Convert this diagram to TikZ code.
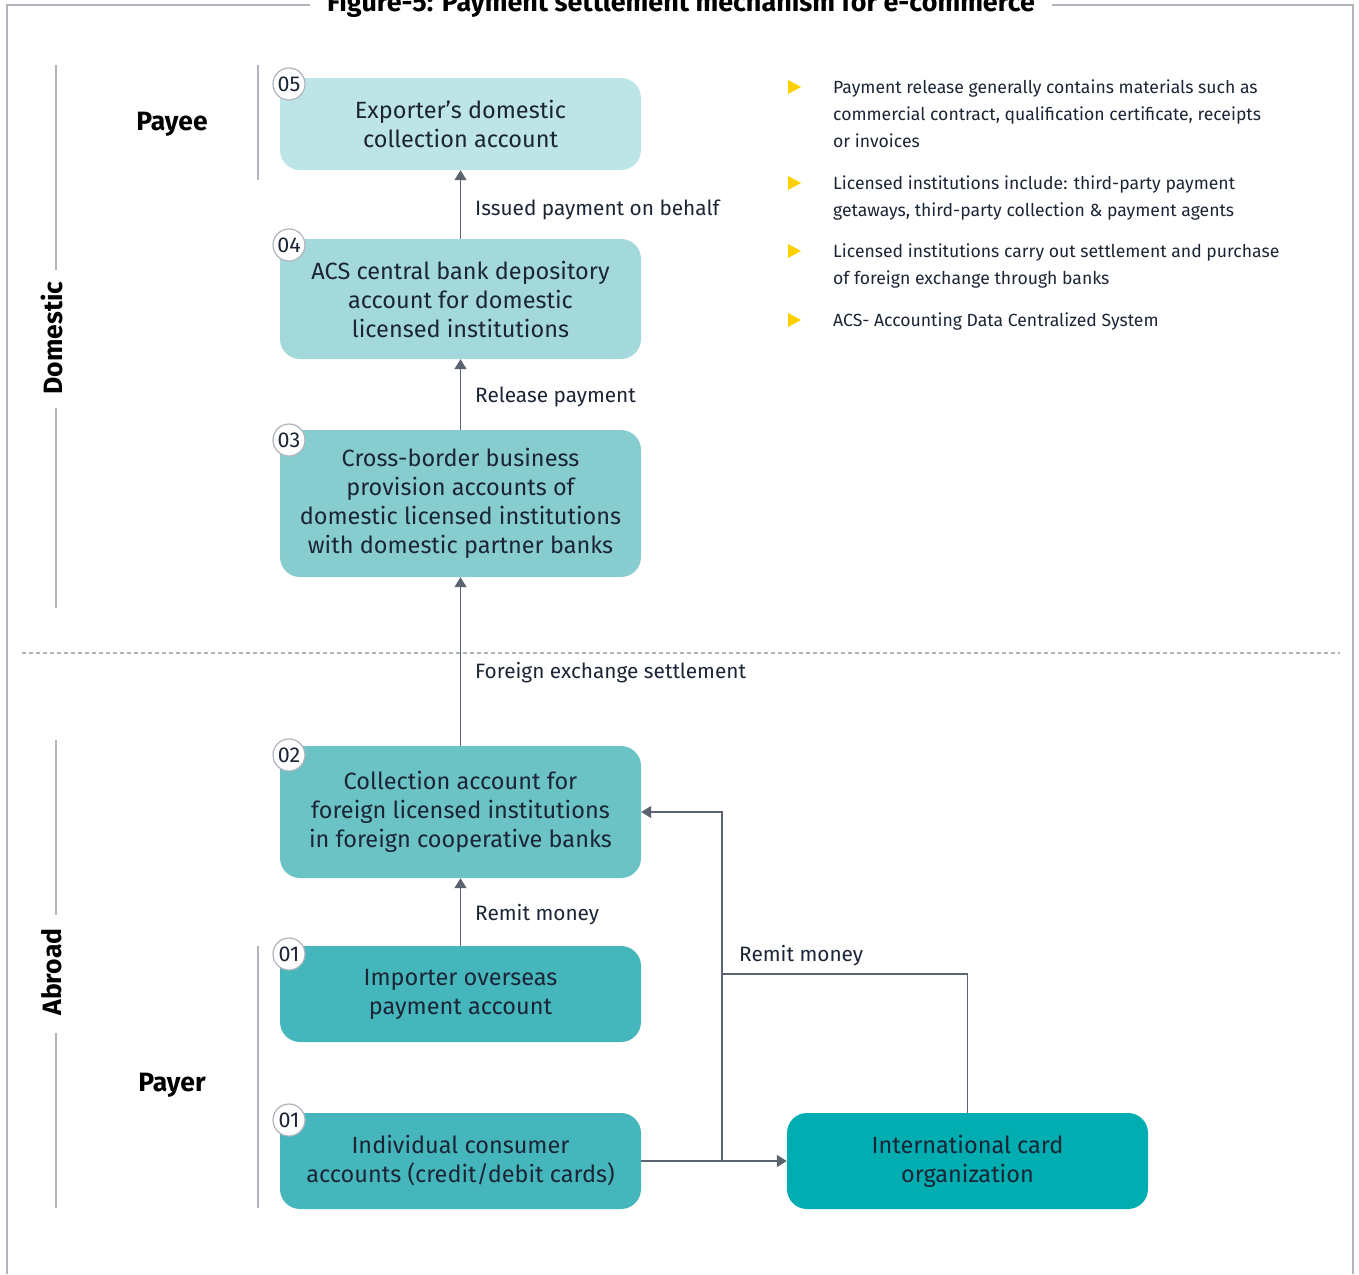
\documentclass[tikz,border=0pt]{standalone}
\usepackage{fontspec}
\setmainfont{Fira Sans}
\usetikzlibrary{arrows.meta}
\definecolor{ink}{HTML}{1B2535}
\definecolor{conn}{HTML}{5B6370}
\definecolor{rule}{HTML}{B0B5BD}
\definecolor{bul}{HTML}{FFD000}
\definecolor{cFive}{HTML}{BDE4E7}
\definecolor{cFour}{HTML}{A4D9DC}
\definecolor{cThree}{HTML}{87CDD0}
\definecolor{cTwo}{HTML}{6BC3C6}
\definecolor{cOne}{HTML}{45B6BC}
\definecolor{cCard}{HTML}{00ADB1}
\tikzset{
  acct/.style={rounded corners=20pt, minimum width=361pt, align=center, text=ink,
    font=\fontsize{23.5}{29}\selectfont, inner sep=0pt},
  badge/.style={circle, draw=rule, line width=1.2pt, fill=white, minimum size=32pt,
    inner sep=0pt, text=ink, font=\fontsize{21.5}{21}\selectfont},
  flow/.style={draw=conn, line width=1.5pt, -{Triangle[width=12pt,length=10pt]}},
  plain/.style={draw=conn, line width=1.5pt},
  flowlabel/.style={anchor=west, text=ink, font=\fontsize{20.8}{22}\selectfont, inner sep=0pt},
  side/.style={draw=rule, line width=2pt},
  sidelabel/.style={text=black, font=\fontsize{26.5}{26}\selectfont\bfseries, inner sep=0pt},
  note/.style={anchor=north west, align=left, text=ink, font=\fontsize{17.6}{27}\selectfont, inner sep=0pt},
  tri/.style={fill=bul, draw=none}
}
\begin{document}
\begin{tikzpicture}[x=1pt,y=-1pt]
\useasboundingbox (0,0) rectangle (1359,1274);

% outer frame and title
\draw[rule, line width=1.2pt] (310,5) -- (7,5) -- (7,1274);
\draw[rule, line width=1.2pt] (1052,5) -- (1353,5) -- (1353,1274);
\node[anchor=base, font=\fontsize{26.9}{26}\selectfont\bfseries, text=black, inner sep=0pt] (title)
  at (681,12) {Figure-5: Payment settlement mechanism for e-commerce};

% domestic / abroad divider
\draw[rule, line width=1.2pt, dash pattern=on 4pt off 3pt] (22,653) -- (1340,653);

% section labels
\node[sidelabel, rotate=90] (domestic) at (52,338) {Domestic};
\draw[side] (56,65) -- (56,270);
\draw[side] (56,408) -- (56,608);
\node[sidelabel, rotate=90] (abroad) at (52,972) {Abroad};
\draw[side] (56,740) -- (56,915);
\draw[side] (56,1033) -- (56,1208);
\node[sidelabel] (payee) at (172,124) {Payee};
\draw[side] (258,65) -- (258,180);
\node[sidelabel] (payer) at (172,1085) {Payer};
\draw[side] (258,946) -- (258,1208);

% account boxes
\node[acct, fill=cFive, minimum height=92pt] (b5) at (460.5,124) {Exporter’s domestic\\collection account};
\node[acct, fill=cFour, minimum height=120pt] (b4) at (460.5,299) {ACS central bank depository\\account for domestic\\licensed institutions};
\node[acct, fill=cThree, minimum height=147pt] (b3) at (460.5,503.5) {Cross-border business\\provision accounts of\\domestic licensed institutions\\with domestic partner banks};
\node[acct, fill=cTwo, minimum height=132pt] (b2) at (460.5,812) {Collection account for\\foreign licensed institutions\\in foreign cooperative banks};
\node[acct, fill=cOne, minimum height=96pt] (b1a) at (460.5,994) {Importer overseas\\payment account};
\node[acct, fill=cOne, minimum height=96pt] (b1b) at (460.5,1161) {Individual consumer\\accounts (credit/debit cards)};
\node[acct, fill=cCard, minimum height=96pt] (card) at (967.5,1161) {International card\\organization};

% step badges
\node[badge] (n5) at (289,84) {05};
\node[badge] (n4) at (289,245) {04};
\node[badge] (n3) at (289,440) {03};
\node[badge] (n2) at (289,755) {02};
\node[badge] (n1a) at (289,954) {01};
\node[badge] (n1b) at (289,1120) {01};

% vertical flows
\draw[flow] (b4.north) -- (b5.south);
\node[flowlabel] (l4) at (475,210) {Issued payment on behalf};
\draw[flow] (b3.north) -- (b4.south);
\node[flowlabel] (l3) at (475,397) {Release payment};
\draw[flow] (b2.north) -- (b3.south);
\node[flowlabel] (l2) at (475,673) {Foreign exchange settlement};
\draw[flow] (b1a.north) -- (b2.south);
\node[flowlabel] (l1) at (475,915) {Remit money};

% card payments
\coordinate (jn) at (722,1161);
\coordinate (jc) at (722,974);
\draw[flow] (b1b.east) -- (card.west);
\draw[flow] (jn) |- (b2.east);
\draw[plain] (card.north) |- (jc);
\node[flowlabel] (lc) at (739,956) {Remit money};

% notes
\fill[tri] (788,80) -- (801,87) -- (788,94) -- cycle;
\node[note] (t1) at (833,80) {Payment release generally contains materials such as\\commercial contract, qualification certificate, receipts\\or invoices};
\fill[tri] (788,176) -- (801,183) -- (788,190) -- cycle;
\node[note] (t2) at (833,176) {Licensed institutions include: third-party payment\\getaways, third-party collection \& payment agents};
\fill[tri] (788,244) -- (801,251) -- (788,258) -- cycle;
\node[note] (t3) at (833,244) {Licensed institutions carry out settlement and purchase\\of foreign exchange through banks};
\fill[tri] (788,313) -- (801,320) -- (788,327) -- cycle;
\node[note] (t4) at (833,313) {ACS- Accounting Data Centralized System};
\end{tikzpicture}
\end{document}
